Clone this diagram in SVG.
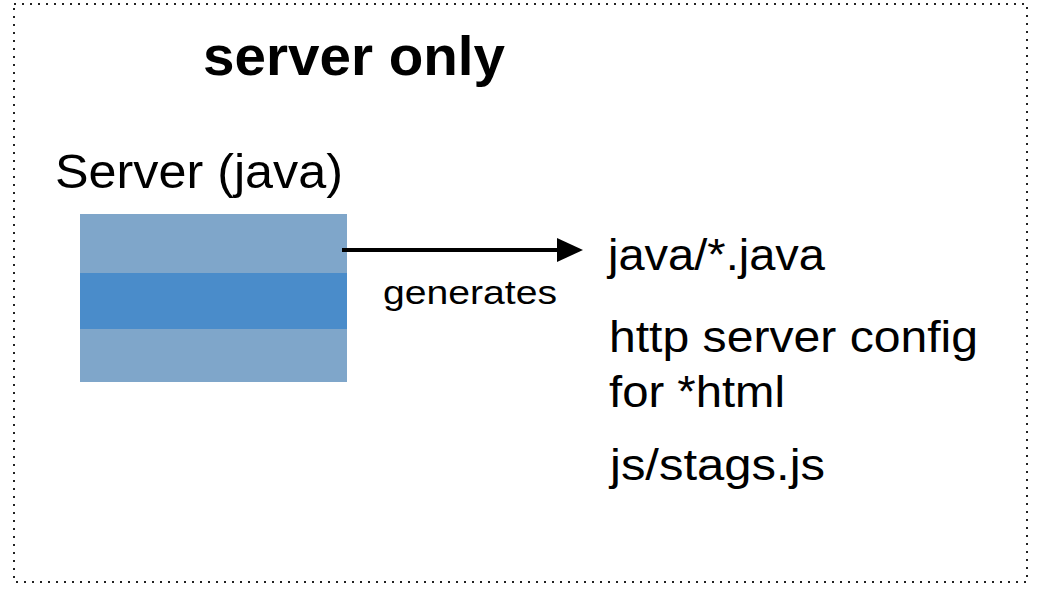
<svg xmlns="http://www.w3.org/2000/svg" width="1040" height="595" viewBox="0 0 1040 595">
<style>
text{font-family:"Liberation Sans",Arial,sans-serif;fill:#000}
.lbl{font-size:44px}
</style>
<rect x="0" y="0" width="1040" height="595" fill="#fff"/>
<g id="frame">
<rect x="14" y="4" width="1013" height="578" fill="none" stroke="#222" stroke-width="2" stroke-dasharray="2 6"/>
<text x="203" y="75" font-size="56" font-weight="bold" textLength="302" lengthAdjust="spacingAndGlyphs">server only</text>
</g>
<g id="server">
<text x="55" y="188" font-size="48" textLength="288" lengthAdjust="spacingAndGlyphs">Server (java)</text>
<rect x="80" y="214" width="267" height="59" fill="#7FA6CA"/>
<rect x="80" y="273" width="267" height="56" fill="#4A8CCA"/>
<rect x="80" y="329" width="267" height="53" fill="#7FA6CA"/>
</g>
<g id="connectors">
<line x1="342" y1="250" x2="562" y2="250" stroke="#000" stroke-width="4"/>
<polygon points="557,238 583,250 557,262" fill="#000"/>
<text x="383" y="304" font-size="34" textLength="174" lengthAdjust="spacingAndGlyphs">generates</text>
</g>
<g id="outputs">
<text class="lbl" x="608" y="270" textLength="217" lengthAdjust="spacingAndGlyphs">java/*.java</text>
<text class="lbl" x="609" y="352" textLength="369" lengthAdjust="spacingAndGlyphs">http server config</text>
<text class="lbl" x="609" y="407" textLength="176" lengthAdjust="spacingAndGlyphs">for *html</text>
<text class="lbl" x="610" y="480" textLength="215" lengthAdjust="spacingAndGlyphs">js/stags.js</text>
</g>
</svg>
